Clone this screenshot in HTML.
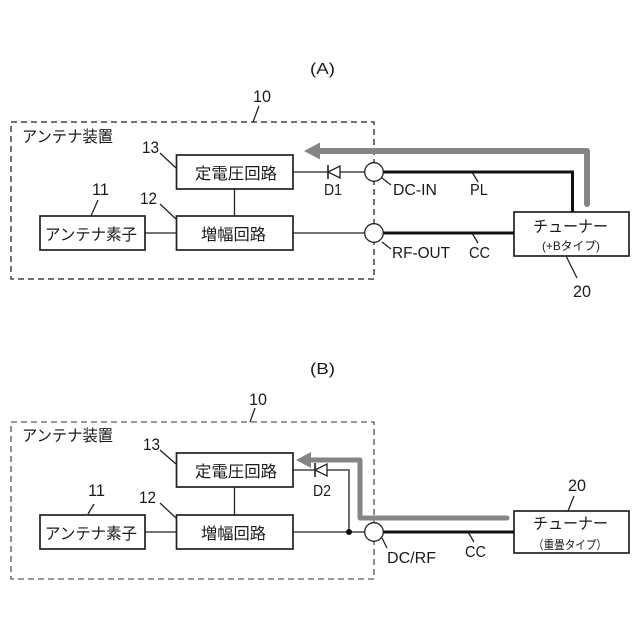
<!DOCTYPE html>
<html><head><meta charset="utf-8"><style>
html,body{margin:0;padding:0;background:#fff}
svg{display:block}
text{font-family:"Liberation Sans","Noto Sans CJK JP",sans-serif;fill:#1a1a1a}
.j{font-size:16px}
.l{font-size:15.5px}
.n{font-size:17px}
</style></head><body>
<svg width="640" height="640" viewBox="0 0 640 640" xmlns="http://www.w3.org/2000/svg">
<g fill="none" stroke="#222" stroke-width="1.300">
<!-- A -->
<rect x="11" y="122" width="363" height="157" stroke="#444" stroke-width="1.500" stroke-dasharray="6 4"/>
<path d="M293 172H365M293 233H365M145 233H176M234.500 189V216"/>
<path d="M253 122L259 106M160 153L176 168M160 204L176 219M91 216L98 200M566 256L577 278M382 178L391 185M382 242L391 249M472 172L478 182M472 233L478 243"/>
<path d="M328 172L340 166V178Z" fill="#fff"/><path d="M328 165V179" stroke-width="1.600"/>
<!-- B -->
<rect x="11" y="422" width="363" height="157" stroke="#333" stroke-width="1.100" stroke-dasharray="6 4"/>
<path d="M293 532H365M145 532H176M234.500 487V515M349 532V470H293"/>
<path d="M250 422L255 408M160 450L176 464M160 503L176 518M88 514L94 504M568 511L574 496M382 538L387 548M468 532L474 542"/>
<path d="M315 470L327 464V476Z" fill="#fff"/><path d="M315 463V477" stroke-width="1.600"/>
</g>
<g fill="#fff" stroke="#222" stroke-width="1.700">
<rect x="176.500" y="155" width="116.500" height="34"/>
<rect x="176.500" y="216" width="116.500" height="34"/>
<rect x="40" y="216" width="105" height="34"/>
<rect x="176.500" y="453" width="116.500" height="34"/>
<rect x="176.500" y="515" width="116.500" height="34"/>
<rect x="40" y="515" width="105" height="34"/>
<rect x="514" y="212" width="115" height="44"/>
<rect x="514" y="511" width="115" height="42"/>
</g>
<g fill="none" stroke="#111" stroke-width="3">
<path d="M383 172H572.500V212M383 233H514M383 532H514"/>
</g>
<g fill="#fff" stroke="#222" stroke-width="1.300">
<circle cx="374" cy="172" r="9.300"/><circle cx="374" cy="233" r="9.300"/><circle cx="374" cy="532" r="9.300"/>
</g>
<circle cx="349" cy="532" r="3" fill="#111"/>
<g fill="none" stroke="#858585" stroke-linejoin="round" stroke-linecap="round">
<path d="M587 204V151H318" stroke-width="6"/>
<path d="M507 518H360V460H310" stroke-width="5"/>
</g>
<path d="M304 151L320 142.500V159.500Z" fill="#858585"/>
<path d="M296 460L311 452V468Z" fill="#858585"/>
<g>
<text x="310" y="74" textLength="25" lengthAdjust="spacingAndGlyphs" style="font-size:16px">(A)</text>
<text x="310" y="374" textLength="25" lengthAdjust="spacingAndGlyphs" style="font-size:16px">(B)</text>
<text class="n" x="253" y="102" textLength="18" lengthAdjust="spacingAndGlyphs">10</text>
<text class="n" x="142" y="153" textLength="17" lengthAdjust="spacingAndGlyphs">13</text>
<text class="n" x="140" y="204" textLength="17" lengthAdjust="spacingAndGlyphs">12</text>
<text class="n" x="92" y="195" textLength="17" lengthAdjust="spacingAndGlyphs">11</text>
<text class="n" x="573" y="297" textLength="18" lengthAdjust="spacingAndGlyphs">20</text>
<text class="n" x="249" y="405" textLength="18" lengthAdjust="spacingAndGlyphs">10</text>
<text class="n" x="143" y="450" textLength="17" lengthAdjust="spacingAndGlyphs">13</text>
<text class="n" x="139" y="503" textLength="17" lengthAdjust="spacingAndGlyphs">12</text>
<text class="n" x="88" y="496" textLength="17" lengthAdjust="spacingAndGlyphs">11</text>
<text class="n" x="568" y="491" textLength="18" lengthAdjust="spacingAndGlyphs">20</text>
<text class="j" x="22" y="142" textLength="91" lengthAdjust="spacingAndGlyphs">アンテナ装置</text>
<text class="j" x="22" y="441" textLength="91" lengthAdjust="spacingAndGlyphs">アンテナ装置</text>
<text class="j" x="195" y="179" textLength="82" lengthAdjust="spacingAndGlyphs">定電圧回路</text>
<text class="j" x="201" y="240" textLength="65" lengthAdjust="spacingAndGlyphs">増幅回路</text>
<text class="j" x="45" y="240" textLength="92" lengthAdjust="spacingAndGlyphs">アンテナ素子</text>
<text class="j" x="195" y="477" textLength="82" lengthAdjust="spacingAndGlyphs">定電圧回路</text>
<text class="j" x="201" y="539" textLength="65" lengthAdjust="spacingAndGlyphs">増幅回路</text>
<text class="j" x="45" y="539" textLength="92" lengthAdjust="spacingAndGlyphs">アンテナ素子</text>
<text class="j" x="533" y="232" textLength="75" lengthAdjust="spacingAndGlyphs">チューナー</text>
<text class="j" x="533" y="529" textLength="75" lengthAdjust="spacingAndGlyphs">チューナー</text>
<text x="542" y="250" textLength="58" lengthAdjust="spacingAndGlyphs" style="font-size:12px">(+Bタイプ)</text>
<text x="533" y="549" textLength="74" lengthAdjust="spacingAndGlyphs" style="font-size:12px">（重畳タイプ）</text>
<text class="l" x="324" y="195" textLength="18" lengthAdjust="spacingAndGlyphs">D1</text>
<text class="l" x="393" y="195" textLength="44" lengthAdjust="spacingAndGlyphs">DC-IN</text>
<text class="l" x="470" y="195" textLength="18" lengthAdjust="spacingAndGlyphs">PL</text>
<text class="l" x="392" y="258" textLength="58" lengthAdjust="spacingAndGlyphs">RF-OUT</text>
<text class="l" x="469" y="258" textLength="21" lengthAdjust="spacingAndGlyphs">CC</text>
<text class="l" x="313" y="496" textLength="18" lengthAdjust="spacingAndGlyphs">D2</text>
<text class="l" x="387" y="563" textLength="49" lengthAdjust="spacingAndGlyphs">DC/RF</text>
<text class="l" x="465" y="557" textLength="21" lengthAdjust="spacingAndGlyphs">CC</text>
</g>
</svg>
</body></html>
